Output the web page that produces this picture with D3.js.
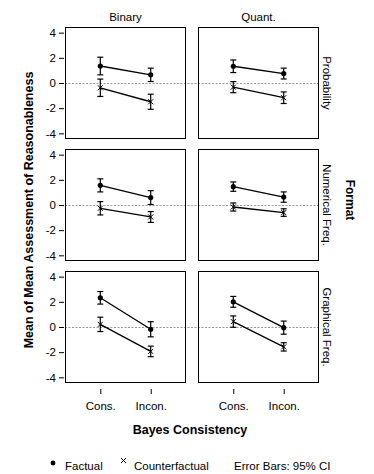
<!DOCTYPE html>
<html>
<head>
<meta charset="utf-8">
<script src="https://cdn.jsdelivr.net/npm/d3@7"></script>
<style>
  body { margin: 0; background: #fff; }
  text { font-family: "Liberation Sans", Arial, sans-serif; fill: #000; }
</style>
</head>
<body>
<div id="chart"></div>
<script>
// data
var columns = ["Binary", "Quant."];
var rows = ["Probability", "Numerical Freq.", "Graphical Freq."];
var levels = ["Cons.", "Incon."];
var yTicks = [-4, -2, 0, 2, 4];

// [row][col] -> [Cons., Incon.]
var factualMean = [[[1.35, 0.65], [1.33, 0.75]],
                   [[1.56, 0.59], [1.46, 0.63]],
                   [[2.32, -0.18], [2.0, -0.05]]];
var factualCI   = [[[0.7, 0.53], [0.5, 0.43]],
                   [[0.52, 0.55], [0.37, 0.41]],
                   [[0.5, 0.6], [0.43, 0.52]]];
var counterMean = [[[-0.38, -1.49], [-0.33, -1.17]],
                   [[-0.26, -0.95], [-0.16, -0.6]],
                   [[0.21, -1.94], [0.43, -1.58]]];
var counterCI   = [[[0.69, 0.6], [0.44, 0.46]],
                   [[0.53, 0.43], [0.32, 0.3]],
                   [[0.57, 0.42], [0.45, 0.33]]];

var width = 374, height = 474;
var panelW = 121, panelH = 112, gapX = 12, gapY = 10;
var marginLeft = 65, marginTop = 27;
var fs = "11.5px";

var svg = d3.select("#chart").append("svg")
    .attr("width", width)
    .attr("height", height);

var x = d3.scalePoint()
    .domain(levels)
    .range([0, panelW])
    .padding(0.7);

var y = d3.scaleLinear()
    .domain([-4.45, 4.45])
    .range([panelH, 0]);

// column headers
columns.forEach(function(c, j) {
  svg.append("text")
    .attr("x", marginLeft + j * (panelW + gapX) + panelW / 2)
    .attr("y", 21)
    .attr("text-anchor", "middle")
    .style("font-size", fs)
    .text(c);
});

rows.forEach(function(r, i) {
  var py = marginTop + i * (panelH + gapY);

  // zero reference line across both columns
  svg.append("line")
    .attr("x1", marginLeft)
    .attr("x2", marginLeft + 2 * panelW + gapX)
    .attr("y1", py + Math.round(y(0)) + 0.5)
    .attr("y2", py + Math.round(y(0)) + 0.5)
    .attr("stroke", "#999")
    .attr("stroke-dasharray", "2,1.5");

  // y axis on left column only
  var ya = svg.append("g")
    .attr("transform", "translate(" + (marginLeft - 1) + "," + py + ")")
    .call(d3.axisLeft(y).tickValues(yTicks).tickFormat(function(d) { return String(d); })
      .tickSize(5).tickPadding(3).tickSizeOuter(0));
  ya.select(".domain").remove();
  ya.selectAll("text").style("font-size", fs).style("font-family", "Liberation Sans, Arial, sans-serif");

  // row label on the right
  var rx = marginLeft + 2 * panelW + gapX + 4;
  svg.append("text")
    .attr("transform", "translate(" + rx + "," + (py + panelH / 2) + ") rotate(90)")
    .attr("text-anchor", "middle")
    .style("font-size", fs)
    .text(r);

  columns.forEach(function(c, j) {
    var px = marginLeft + j * (panelW + gapX);
    var g = svg.append("g").attr("transform", "translate(" + px + "," + py + ")");

    g.append("rect")
      .attr("x", 0.5).attr("y", 0.5)
      .attr("width", panelW - 1).attr("height", panelH - 1)
      .attr("fill", "none")
      .attr("stroke", "#000");

    var series = [
      { mean: factualMean[i][j], ci: factualCI[i][j], shape: "dot" },
      { mean: counterMean[i][j], ci: counterCI[i][j], shape: "x" }
    ];

    series.forEach(function(s) {
      var pts = levels.map(function(l, k) { return { l: l, m: s.mean[k], e: s.ci[k] }; });

      g.append("path")
        .datum(pts)
        .attr("fill", "none")
        .attr("stroke", "#000")
        .attr("stroke-width", 1.3)
        .attr("d", d3.line().x(function(d) { return x(d.l); }).y(function(d) { return y(d.m); }));

      // error bars
      var eb = g.selectAll(null).data(pts).enter().append("g")
        .attr("stroke", "#000")
        .attr("stroke-width", 1.2);
      eb.append("line")
        .attr("x1", function(d) { return x(d.l); })
        .attr("x2", function(d) { return x(d.l); })
        .attr("y1", function(d) { return y(d.m + d.e); })
        .attr("y2", function(d) { return y(d.m - d.e); });
      eb.append("line")
        .attr("x1", function(d) { return x(d.l) - 3; })
        .attr("x2", function(d) { return x(d.l) + 3; })
        .attr("y1", function(d) { return y(d.m + d.e); })
        .attr("y2", function(d) { return y(d.m + d.e); });
      eb.append("line")
        .attr("x1", function(d) { return x(d.l) - 3; })
        .attr("x2", function(d) { return x(d.l) + 3; })
        .attr("y1", function(d) { return y(d.m - d.e); })
        .attr("y2", function(d) { return y(d.m - d.e); });

      if (s.shape == "dot") {
        g.selectAll(null).data(pts).enter().append("circle")
          .attr("cx", function(d) { return x(d.l); })
          .attr("cy", function(d) { return y(d.m); })
          .attr("r", 2.6)
          .attr("fill", "#000");
      } else {
        g.selectAll(null).data(pts).enter().append("path")
          .attr("transform", function(d) { return "translate(" + x(d.l) + "," + y(d.m) + ")"; })
          .attr("d", "M-2.5,-2.5L2.5,2.5M-2.5,2.5L2.5,-2.5")
          .attr("stroke", "#000")
          .attr("stroke-width", 1);
      }
    });

    // x axis ticks under the bottom row
    if (i == rows.length - 1) {
      var xa = g.append("g")
        .attr("transform", "translate(0," + (panelH + 6) + ")")
        .call(d3.axisBottom(x).tickSize(5).tickPadding(8).tickSizeOuter(0));
      xa.select(".domain").remove();
      xa.selectAll("text").style("font-size", fs).style("font-family", "Liberation Sans, Arial, sans-serif");
    }
  });
});

// facet title on the right
svg.append("text")
  .attr("transform", "translate(346,200) rotate(90)")
  .attr("text-anchor", "middle")
  .style("font-size", "12px")
  .style("font-weight", "bold")
  .text("Format");

// y axis title
svg.append("text")
  .attr("transform", "translate(33,210) rotate(-90)")
  .attr("text-anchor", "middle")
  .style("font-size", "12.5px")
  .style("font-weight", "bold")
  .text("Mean of Mean Assessment of Reasonableness");

// x axis title
svg.append("text")
  .attr("x", 190)
  .attr("y", 434)
  .attr("text-anchor", "middle")
  .style("font-size", "12.5px")
  .style("font-weight", "bold")
  .text("Bayes Consistency");

// legend
var lg = svg.append("g");
lg.append("circle").attr("cx", 53).attr("cy", 463).attr("r", 2.4).attr("fill", "#000");
lg.append("text").attr("x", 65).attr("y", 470).style("font-size", fs).text("Factual");
lg.append("path").attr("d", "M121,458L126,463M121,463L126,458").attr("stroke", "#000").attr("stroke-width", 1);
lg.append("text").attr("x", 134).attr("y", 470).style("font-size", fs).text("Counterfactual");
lg.append("text").attr("x", 234).attr("y", 470).style("font-size", fs).text("Error Bars: 95% CI");
</script>
</body>
</html>
